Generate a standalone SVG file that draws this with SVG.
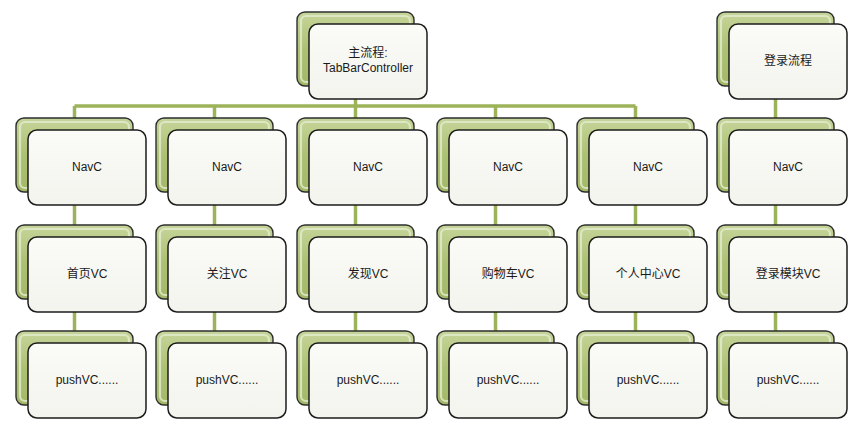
<svg xmlns="http://www.w3.org/2000/svg" width="865" height="432" viewBox="0 0 865 432">
<defs>
<linearGradient id="gg" x1="0" y1="0" x2="0" y2="1">
<stop offset="0" stop-color="#c6d59a"/>
<stop offset="0.5" stop-color="#adc173"/>
<stop offset="1" stop-color="#a3b867"/>
</linearGradient>
<linearGradient id="wg" x1="0" y1="0" x2="0" y2="1">
<stop offset="0" stop-color="#fbfbf7"/>
<stop offset="1" stop-color="#f3f4ee"/>
</linearGradient>
<style>
.bk{fill:url(#gg);stroke:#2e2e2e;stroke-width:1.4}
.hl{fill:none;stroke:#e4ecd0;stroke-width:2.2;opacity:0.8}
.fr{fill:url(#wg);stroke:#1c1c1c;stroke-width:1.5}
.t{font-family:"Liberation Sans","Noto Sans CJK SC",sans-serif;font-size:12px;fill:#1a1a1a;text-anchor:middle}
.c{stroke:#9cb35a;stroke-width:3.5;fill:none}
</style>
<g id="nd">
<rect class="bk" x="0" y="0" width="117" height="74" rx="8"/>
<rect class="hl" x="4" y="4" width="109" height="66" rx="5"/>
<rect class="fr" x="12" y="12" width="118" height="75" rx="9"/>
</g>
</defs>
<g id="connectors">
<line class="c" x1="355.5" y1="48" x2="355.5" y2="106"/>
<line class="c" x1="74.5" y1="106" x2="635.5" y2="106"/>
<line class="c" x1="74.5" y1="106" x2="74.5" y2="370"/>
<line class="c" x1="214.5" y1="106" x2="214.5" y2="370"/>
<line class="c" x1="355.5" y1="106" x2="355.5" y2="370"/>
<line class="c" x1="495.5" y1="106" x2="495.5" y2="370"/>
<line class="c" x1="635.5" y1="106" x2="635.5" y2="370"/>
<line class="c" x1="775.5" y1="48" x2="775.5" y2="370"/>
</g>
<g id="main"><use href="#nd" x="297" y="12"/><text class="t" x="368" y="57">主流程:</text><text class="t" x="368" y="72">TabBarController</text></g>
<g id="login"><use href="#nd" x="717" y="12"/><text class="t" x="788" y="65">登录流程</text></g>
<g id="nav1"><use href="#nd" x="16" y="118"/><text class="t" x="87" y="171">NavC</text></g>
<g id="nav2"><use href="#nd" x="156" y="118"/><text class="t" x="227" y="171">NavC</text></g>
<g id="nav3"><use href="#nd" x="297" y="118"/><text class="t" x="368" y="171">NavC</text></g>
<g id="nav4"><use href="#nd" x="437" y="118"/><text class="t" x="508" y="171">NavC</text></g>
<g id="nav5"><use href="#nd" x="577" y="118"/><text class="t" x="648" y="171">NavC</text></g>
<g id="nav6"><use href="#nd" x="717" y="118"/><text class="t" x="788" y="171">NavC</text></g>
<g id="vc1"><use href="#nd" x="16" y="225"/><text class="t" x="87" y="278">首页VC</text></g>
<g id="vc2"><use href="#nd" x="156" y="225"/><text class="t" x="227" y="278">关注VC</text></g>
<g id="vc3"><use href="#nd" x="297" y="225"/><text class="t" x="368" y="278">发现VC</text></g>
<g id="vc4"><use href="#nd" x="437" y="225"/><text class="t" x="508" y="278">购物车VC</text></g>
<g id="vc5"><use href="#nd" x="577" y="225"/><text class="t" x="648" y="278">个人中心VC</text></g>
<g id="vc6"><use href="#nd" x="717" y="225"/><text class="t" x="788" y="278">登录模块VC</text></g>
<g id="p1"><use href="#nd" x="16" y="331"/><text class="t" x="87" y="384">pushVC......</text></g>
<g id="p2"><use href="#nd" x="156" y="331"/><text class="t" x="227" y="384">pushVC......</text></g>
<g id="p3"><use href="#nd" x="297" y="331"/><text class="t" x="368" y="384">pushVC......</text></g>
<g id="p4"><use href="#nd" x="437" y="331"/><text class="t" x="508" y="384">pushVC......</text></g>
<g id="p5"><use href="#nd" x="577" y="331"/><text class="t" x="648" y="384">pushVC......</text></g>
<g id="p6"><use href="#nd" x="717" y="331"/><text class="t" x="788" y="384">pushVC......</text></g>
</svg>
